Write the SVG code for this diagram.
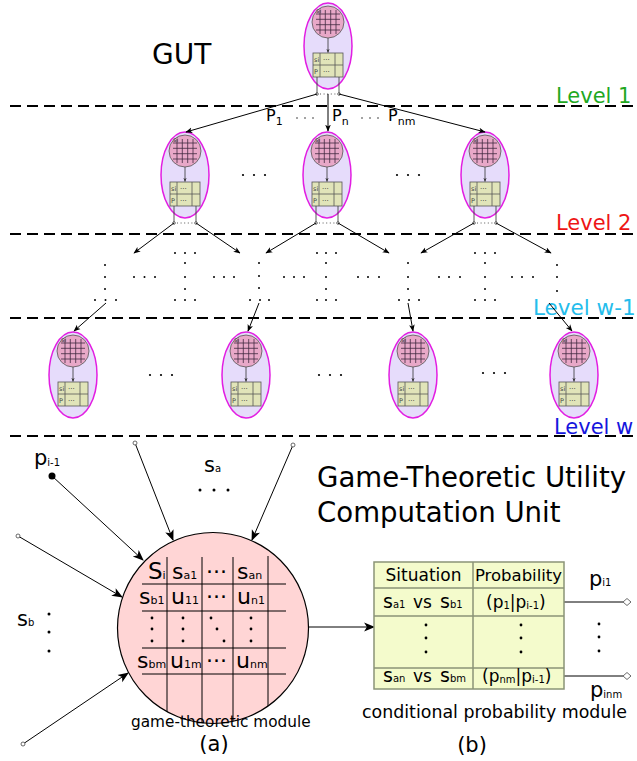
<svg xmlns="http://www.w3.org/2000/svg" xmlns:xlink="http://www.w3.org/1999/xlink" width="637" height="761" viewBox="0 0 637 761">
<style>
.t{font-family:"DejaVu Sans","Liberation Sans",sans-serif;fill:#000}
.shell{fill:#e6dcfb;stroke:#e21ee2;stroke-width:1.5}
.core{fill:#e8a8c8;stroke:#555;stroke-width:.8}
.grid{stroke:#402840;stroke-width:.8}
.tbl{fill:#e1e4b9;stroke:#555;stroke-width:.8}
.conn{stroke:#000;stroke-width:1;fill:none}
.dash{stroke:#000;stroke-width:2;stroke-dasharray:11 6;fill:none}
.dot{fill:#000}
.mline{stroke:#000;stroke-width:1;fill:none}
.ptbl{fill:#f4fbcc;stroke:#8a9477;stroke-width:1.5}
.pline{stroke:#8a9477;stroke-width:1.5}
.term{fill:#fff;stroke:#444;stroke-width:.8}
.tiny{font-family:"DejaVu Sans",sans-serif;font-size:6.5px;fill:#444}
</style>
<defs>
<marker id="ah" viewBox="0 0 10 10" refX="9" refY="5" markerWidth="7" markerHeight="7" orient="auto" markerUnits="userSpaceOnUse">
<path d="M0,1 L10,5 L0,9 L2.5,5 z" fill="#000"/>
</marker>
<marker id="ahs" viewBox="0 0 10 10" refX="9" refY="5" markerWidth="4" markerHeight="4" orient="auto" markerUnits="userSpaceOnUse">
<path d="M0,1 L10,5 L0,9 L2.5,5 z" fill="#333"/>
</marker>
<marker id="ahb" viewBox="0 0 10 10" refX="9" refY="5" markerWidth="11" markerHeight="11" orient="auto" markerUnits="userSpaceOnUse">
<path d="M0,1 L10,5 L0,9 L2.5,5 z" fill="#000"/>
</marker>
<clipPath id="bigclip"><circle cx="213" cy="628" r="95.5"/></clipPath>
<g id="nodeBody">
<ellipse cx="0" cy="0" rx="24" ry="43" class="shell"/>
<circle cx="0" cy="-24" r="16" class="core"/>
<path class="grid" d="M-8,-36 V-12 M-2.7,-36 V-12 M2.7,-36 V-12 M8,-36 V-12 M-12,-32 H12 M-12,-26.7 H12 M-12,-21.3 H12 M-12,-16 H12"/>
<text class="tiny" x="-12" y="-33" font-size="5px">si</text>
<line x1="0" y1="-8" x2="0" y2="6.5" stroke="#333" stroke-width=".8" marker-end="url(#ahs)"/>
<rect x="-15" y="7" width="30" height="24" class="tbl"/>
<path class="tbl" d="M-15,19 H15 M-8,7 V31 M7,7 V31" fill="none"/>
<text class="tiny" x="-14" y="16">si</text>
<text class="tiny" x="-14" y="28">P</text>
<text class="tiny" x="-5" y="15.5" style="font-size:7px;fill:#333">···</text>
<text class="tiny" x="-5" y="27.5" style="font-size:7px;fill:#333">···</text>
</g>
<g id="stubs">
<path d="M-11,31 V48 M11,31 V48" stroke="#444" stroke-width=".9" fill="none"/>
<line x1="-8" y1="48" x2="9" y2="48" stroke="#444" stroke-width=".9" stroke-dasharray="1 2.6"/>
<circle cx="-11" cy="48" r="1.3" class="term"/>
<circle cx="11" cy="48" r="1.3" class="term"/>
</g>
</defs>

<rect x="0" y="0" width="637" height="761" fill="#fff"/>

<g id="levels">
<line class="dash" x1="10" y1="106" x2="637" y2="106"/>
<line class="dash" x1="10" y1="234" x2="637" y2="234"/>
<line class="dash" x1="10" y1="318" x2="637" y2="318"/>
<line class="dash" x1="10" y1="436" x2="637" y2="436"/>
<text class="t" x="556" y="103" font-size="21" style="fill:#1fa81f">Level 1</text>
<text class="t" x="556" y="230" font-size="21" style="fill:#ee1515">Level 2</text>
<text class="t" x="533" y="315" font-size="21.5" style="fill:#25bdec">Level w-1</text>
<text class="t" x="554" y="434" font-size="21" style="fill:#1515dd">Level w</text>
<text class="t" x="152" y="64" font-size="28">GUT</text>
</g>

<g id="node-top" transform="translate(328,46)"><use xlink:href="#nodeBody"/><use xlink:href="#stubs"/></g>
<g id="node-l2-1" transform="translate(185,175)"><use xlink:href="#nodeBody"/><use xlink:href="#stubs"/></g>
<g id="node-l2-2" transform="translate(327,175)"><use xlink:href="#nodeBody"/><use xlink:href="#stubs"/></g>
<g id="node-l2-3" transform="translate(485,175)"><use xlink:href="#nodeBody"/><use xlink:href="#stubs"/></g>
<g id="node-lw-1" transform="translate(73,375)"><use xlink:href="#nodeBody"/></g>
<g id="node-lw-2" transform="translate(246,375)"><use xlink:href="#nodeBody"/></g>
<g id="node-lw-3" transform="translate(413,375)"><use xlink:href="#nodeBody"/></g>
<g id="node-lw-4" transform="translate(574,375)"><use xlink:href="#nodeBody"/></g>

<g id="connectors">
<line class="conn" x1="317" y1="94" x2="186" y2="132" marker-end="url(#ah)"/>
<line class="conn" x1="328" y1="94" x2="328" y2="131" marker-end="url(#ah)"/>
<line class="conn" x1="339" y1="94" x2="485" y2="132" marker-end="url(#ah)"/>
<line class="conn" x1="174" y1="223" x2="134" y2="253" marker-end="url(#ah)"/>
<line class="conn" x1="196" y1="223" x2="240" y2="253" marker-end="url(#ah)"/>
<line class="conn" x1="316" y1="223" x2="266" y2="253" marker-end="url(#ah)"/>
<line class="conn" x1="338" y1="223" x2="389" y2="253" marker-end="url(#ah)"/>
<line class="conn" x1="474" y1="223" x2="421" y2="253" marker-end="url(#ah)"/>
<line class="conn" x1="496" y1="223" x2="551" y2="253" marker-end="url(#ah)"/>
<line class="conn" x1="106" y1="303" x2="74" y2="331" marker-end="url(#ah)"/>
<line class="conn" x1="259" y1="303" x2="248" y2="331" marker-end="url(#ah)"/>
<line class="conn" x1="408" y1="303" x2="413" y2="331" marker-end="url(#ah)"/>
<line class="conn" x1="549" y1="303" x2="572" y2="331" marker-end="url(#ah)"/>
<line class="conn" x1="52" y1="476" x2="143" y2="560" marker-end="url(#ahb)"/>
<line class="conn" x1="135" y1="443" x2="173" y2="540" marker-end="url(#ahb)"/>
<line class="conn" x1="293" y1="445" x2="252" y2="540" marker-end="url(#ahb)"/>
<line class="conn" x1="18" y1="536" x2="122" y2="597" marker-end="url(#ahb)"/>
<line class="conn" x1="23" y1="744" x2="128" y2="673" marker-end="url(#ahb)"/>
<line class="conn" x1="309" y1="627" x2="374" y2="627" marker-end="url(#ahb)"/>
<line class="conn" x1="564" y1="602" x2="623" y2="602"/>
<line class="conn" x1="564" y1="676" x2="623" y2="676"/>
<circle cx="52" cy="476" r="3.5" class="dot"/>
<circle cx="135" cy="443" r="2" class="term"/>
<circle cx="293" cy="445" r="2" class="term"/>
<circle cx="18" cy="536" r="2" class="term"/>
<circle cx="23" cy="744" r="2" class="term"/>
<path d="M623,602 L627,598.5 L631,602 L627,605.5 z" class="term"/>
<path d="M623,676 L627,672.5 L631,676 L627,679.5 z" class="term"/>
</g>

<g id="edge-labels">
<text class="t" x="266" y="121" font-size="16">P<tspan font-size="11" dy="4">1</tspan></text>
<text class="t" x="332" y="121" font-size="16">P<tspan font-size="11" dy="4">n</tspan></text>
<text class="t" x="388" y="121" font-size="16">P<tspan font-size="11" dy="4">nm</tspan></text>
<g class="dot">
<circle cx="297" cy="118" r=".7"/><circle cx="305" cy="118" r=".7"/><circle cx="313" cy="118" r=".7"/>
<circle cx="362" cy="118" r=".7"/><circle cx="370" cy="118" r=".7"/><circle cx="378" cy="118" r=".7"/>
</g>
</g>

<g id="ellipsis-dots" class="dot">
<circle cx="243" cy="175" r="1.1"/><circle cx="254" cy="175" r="1.1"/><circle cx="265" cy="175" r="1.1"/>
<circle cx="397" cy="175" r="1.1"/><circle cx="408" cy="175" r="1.1"/><circle cx="419" cy="175" r="1.1"/>
<circle cx="150" cy="375" r="1.1"/><circle cx="161" cy="375" r="1.1"/><circle cx="172" cy="375" r="1.1"/>
<circle cx="319" cy="375" r="1.1"/><circle cx="330" cy="375" r="1.1"/><circle cx="341" cy="375" r="1.1"/>
<circle cx="483" cy="373" r="1.1"/><circle cx="494" cy="373" r="1.1"/><circle cx="505" cy="373" r="1.1"/>
<circle cx="105" cy="265" r="1"/><circle cx="105" cy="277" r="1"/><circle cx="105" cy="289" r="1"/>
<circle cx="95" cy="300" r="1"/><circle cx="105.5" cy="300" r="1"/><circle cx="116" cy="300" r="1"/>
<circle cx="134" cy="277" r="1"/><circle cx="144.5" cy="277" r="1"/><circle cx="155" cy="277" r="1"/>
<circle cx="175" cy="253" r="1"/><circle cx="185" cy="253" r="1"/><circle cx="195" cy="253" r="1"/>
<circle cx="185" cy="263" r="1"/><circle cx="185" cy="277" r="1"/><circle cx="185" cy="289" r="1"/>
<circle cx="175" cy="300" r="1"/><circle cx="185" cy="300" r="1"/><circle cx="195" cy="300" r="1"/>
<circle cx="214" cy="277" r="1"/><circle cx="224" cy="277" r="1"/><circle cx="234" cy="277" r="1"/>
<circle cx="259" cy="263" r="1"/><circle cx="259" cy="276" r="1"/><circle cx="259" cy="288" r="1"/>
<circle cx="250" cy="300" r="1"/><circle cx="260" cy="300" r="1"/><circle cx="269" cy="300" r="1"/>
<circle cx="284" cy="277" r="1"/><circle cx="294" cy="277" r="1"/><circle cx="304" cy="277" r="1"/>
<circle cx="317" cy="253" r="1"/><circle cx="326" cy="253" r="1"/><circle cx="336" cy="253" r="1"/>
<circle cx="326" cy="263" r="1"/><circle cx="326" cy="277" r="1"/><circle cx="326" cy="289" r="1"/>
<circle cx="317" cy="300" r="1"/><circle cx="326" cy="300" r="1"/><circle cx="336" cy="300" r="1"/>
<circle cx="358" cy="277" r="1"/><circle cx="368" cy="277" r="1"/><circle cx="379" cy="277" r="1"/>
<circle cx="408" cy="263" r="1"/><circle cx="408" cy="277" r="1"/><circle cx="408" cy="289" r="1"/>
<circle cx="399" cy="300" r="1"/><circle cx="409" cy="300" r="1"/><circle cx="419" cy="300" r="1"/>
<circle cx="439" cy="277" r="1"/><circle cx="449" cy="277" r="1"/><circle cx="460" cy="277" r="1"/>
<circle cx="475" cy="253" r="1"/><circle cx="485" cy="253" r="1"/><circle cx="495" cy="253" r="1"/>
<circle cx="485" cy="263" r="1"/><circle cx="485" cy="277" r="1"/><circle cx="485" cy="289" r="1"/>
<circle cx="475" cy="300" r="1"/><circle cx="485" cy="300" r="1"/><circle cx="495" cy="300" r="1"/>
<circle cx="512" cy="277" r="1"/><circle cx="522" cy="277" r="1"/><circle cx="533" cy="277" r="1"/>
<circle cx="557" cy="265" r="1"/><circle cx="557" cy="277" r="1"/><circle cx="557" cy="291" r="1"/>
</g>

<g id="title">
<text class="t" x="317" y="487" font-size="27.6">Game-Theoretic Utility</text>
<text class="t" x="317" y="522" font-size="27.6">Computation Unit</text>
</g>

<g id="inputs-labels">
<text class="t" x="34" y="465" font-size="21">p<tspan font-size="10" dy="1">i-1</tspan></text>
<text class="t" x="204" y="472" font-size="21">s<tspan font-size="10">a</tspan></text>
<text class="t" x="17" y="626" font-size="21">s<tspan font-size="10">b</tspan></text>
<g class="dot">
<circle cx="200" cy="490" r="1.5"/><circle cx="214" cy="490" r="1.5"/><circle cx="228" cy="490" r="1.5"/>
<circle cx="49" cy="614" r="1.5"/><circle cx="49" cy="632" r="1.5"/><circle cx="49" cy="651" r="1.5"/>
</g>
</g>

<g id="game-theoretic-module">
<circle cx="213" cy="628" r="95.5" fill="#ffd5d5" stroke="#000" stroke-width="1.2"/>
<g clip-path="url(#bigclip)">
<path class="mline" d="M167,557 V730 M202,557 V730 M233,557 V730 M268,556 V730"/>
</g>
<path class="mline" d="M142,584 H286 M142,611 H286 M142,648 H286 M142,674 H286"/>
<g class="t" font-size="22">
<text x="148" y="579" font-size="23">S<tspan font-size="11">i</tspan></text>
<text x="172" y="579">s<tspan font-size="11">a1</tspan></text>
<text x="206" y="579">···</text>
<text x="237" y="579">s<tspan font-size="11">an</tspan></text>
<text x="139" y="604">s<tspan font-size="11">b1</tspan></text>
<text x="171" y="604">u<tspan font-size="11">11</tspan></text>
<text x="206" y="604">···</text>
<text x="237" y="604">u<tspan font-size="11">n1</tspan></text>
<text x="137" y="668">s<tspan font-size="11">bm</tspan></text>
<text x="170" y="668">u<tspan font-size="11">1m</tspan></text>
<text x="206" y="668">···</text>
<text x="236" y="668">u<tspan font-size="11">nm</tspan></text>
</g>
<g class="dot">
<circle cx="152" cy="618" r="1.4"/><circle cx="152" cy="629" r="1.4"/><circle cx="152" cy="641" r="1.4"/>
<circle cx="183" cy="618" r="1.4"/><circle cx="183" cy="629" r="1.4"/><circle cx="183" cy="641" r="1.4"/>
<circle cx="211" cy="618" r="1.4"/><circle cx="217" cy="629" r="1.4"/><circle cx="224" cy="641" r="1.4"/>
<circle cx="251" cy="618" r="1.4"/><circle cx="251" cy="629" r="1.4"/><circle cx="251" cy="641" r="1.4"/>
</g>
<text class="t" x="131" y="727" font-size="15.3">game-theoretic module</text>
<text class="t" x="214" y="751" font-size="21" text-anchor="middle">(a)</text>
</g>

<g id="conditional-probability-module">
<rect x="374" y="562" width="190" height="127" class="ptbl"/>
<path class="pline" d="M374,588 H564 M374,616 H564 M374,668 H564 M473,562 V689"/>
<text class="t" x="423.5" y="581" font-size="17" text-anchor="middle">Situation</text>
<text class="t" x="518.5" y="581" font-size="16.5" text-anchor="middle">Probability</text>
<text class="t" x="383" y="608" font-size="19">s<tspan font-size="10">a1</tspan><tspan x="413" font-size="17">vs</tspan><tspan x="440">s</tspan><tspan font-size="10">b1</tspan></text>
<text class="t" x="486" y="608" font-size="17">(p<tspan font-size="10" dy="1">1</tspan><tspan dy="-1">|p</tspan><tspan font-size="10" dy="1">i-1</tspan><tspan dy="-1">)</tspan></text>
<text class="t" x="383" y="682" font-size="19">s<tspan font-size="10">an</tspan><tspan x="413" font-size="17">vs</tspan><tspan x="440">s</tspan><tspan font-size="10">bm</tspan></text>
<text class="t" x="482" y="682" font-size="17">(p<tspan font-size="10" dy="1">nm</tspan><tspan dy="-1">|p</tspan><tspan font-size="10" dy="1">i-1</tspan><tspan dy="-1">)</tspan></text>
<g class="dot">
<circle cx="426" cy="625" r="1.4"/><circle cx="426" cy="638" r="1.4"/><circle cx="426" cy="652" r="1.4"/>
<circle cx="521" cy="625" r="1.4"/><circle cx="521" cy="638" r="1.4"/><circle cx="521" cy="652" r="1.4"/>
<circle cx="599" cy="624" r="1.4"/><circle cx="599" cy="637" r="1.4"/><circle cx="599" cy="651" r="1.4"/>
</g>
<text class="t" x="589" y="586" font-size="21">p<tspan font-size="10">i1</tspan></text>
<text class="t" x="590" y="697" font-size="21">p<tspan font-size="10" dy="1">inm</tspan></text>
<text class="t" x="362" y="718" font-size="17.4">conditional probability module</text>
<text class="t" x="472" y="752" font-size="21" text-anchor="middle">(b)</text>
</g>
</svg>
